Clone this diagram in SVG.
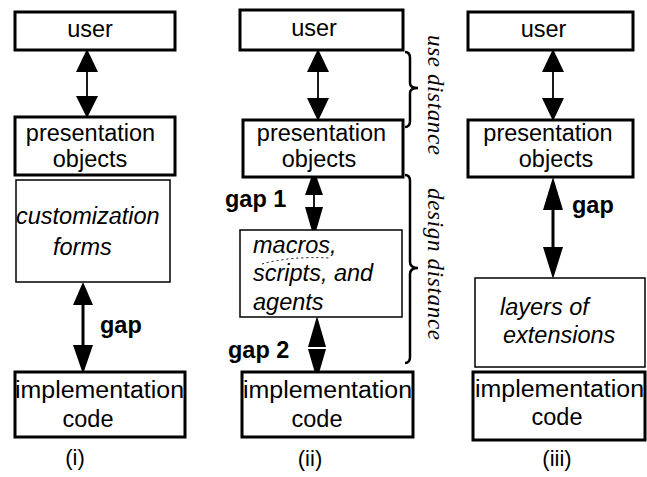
<svg xmlns="http://www.w3.org/2000/svg" width="647" height="477" viewBox="0 0 647 477">
<style>
.thick{fill:#fff;stroke:#000;stroke-width:3}
.thin{fill:#fff;stroke:#000;stroke-width:1.5}
.t{font-family:"Liberation Sans",Arial,sans-serif;font-size:23.5px;fill:#000}
.c{text-anchor:middle}
.i{font-style:italic}
.b{font-weight:bold}
.lbl{font-family:"Liberation Sans",Arial,sans-serif;font-size:22px;text-anchor:middle}
.v{font-family:"Liberation Serif","Times New Roman",serif;font-style:italic;font-size:23px;text-anchor:middle}
.ln{stroke:#000;stroke-width:1.8;fill:none}
.lnb{stroke:#000;stroke-width:3;fill:none}
.hd{fill:#000;stroke:none}
.br{stroke:#000;stroke-width:2.5;fill:none}
</style>
<rect width="647" height="477" fill="#fff"/>
<g id="connectors">
  <!-- (i) user <-> presentation -->
  <line class="ln" x1="87" y1="60" x2="87" y2="105"/>
  <polygon class="hd" points="87,49 76,72 98,72"/>
  <polygon class="hd" points="87,118 76,96 98,96"/>
  <!-- (i) gap -->
  <line class="lnb" x1="83" y1="295" x2="83" y2="360"/>
  <polygon class="hd" points="83,282 73,305 93,305"/>
  <polygon class="hd" points="83,374 73,345 93,345"/>
  <!-- (ii) user <-> presentation -->
  <line class="ln" x1="318" y1="60" x2="318" y2="108"/>
  <polygon class="hd" points="318,49 307,72 329,72"/>
  <polygon class="hd" points="318,121 307,98 329,98"/>
  <!-- (ii) gap 1 -->
  <line class="ln" x1="314" y1="190" x2="314" y2="212"/>
  <polygon class="hd" points="314,170 305,195 323,195"/>
  <polygon class="hd" points="314,238 305,207 323,207"/>
  <!-- (ii) gap 2 -->
  <polygon class="hd" points="317,316 308,347 326,347"/>
  <polygon class="hd" points="317,380 308,349 326,349"/>
  <!-- (iii) user <-> presentation -->
  <line class="ln" x1="553" y1="60" x2="553" y2="108"/>
  <polygon class="hd" points="553,49 542,72 564,72"/>
  <polygon class="hd" points="553,121 542,98 564,98"/>
  <!-- (iii) gap -->
  <line class="lnb" x1="553" y1="195" x2="553" y2="262"/>
  <polygon class="hd" points="553,177 543,210 563,210"/>
  <polygon class="hd" points="553,279 543,247 563,247"/>
</g>
<g id="panel-i">
  <g id="i-user"><rect class="thick" x="15" y="12" width="160" height="38"/><text class="t c" x="90" y="37">user</text></g>
  <g id="i-presentation"><rect class="thick" x="15" y="117" width="160" height="58"/><text class="t c" x="90.5" y="141">presentation</text><text class="t c" x="90" y="167">objects</text></g>
  <g id="i-customization"><rect class="thin" x="16" y="180" width="154" height="102"/><text class="t i" x="16" y="224">customization</text><text class="t i" x="53" y="255">forms</text></g>
  <g id="i-gap"><text class="t b" x="100" y="333">gap</text></g>
  <g id="i-implementation"><rect class="thick" x="15" y="372" width="170" height="65"/><text class="t" x="15" y="398" textLength="169" lengthAdjust="spacingAndGlyphs">implementation</text><text class="t c" x="88" y="427">code</text></g>
  <text class="lbl" x="75" y="465">(i)</text>
</g>
<g id="panel-ii">
  <g id="ii-user"><rect class="thick" x="240" y="10" width="163" height="40"/><text class="t c" x="314" y="36">user</text></g>
  <g id="ii-presentation"><rect class="thick" x="243" y="120" width="160" height="57"/><text class="t c" x="321.5" y="141">presentation</text><text class="t c" x="319" y="167">objects</text></g>
  <g id="ii-gap1"><text class="t b" x="225" y="207">gap 1</text></g>
  <g id="ii-macros"><rect class="thin" x="240" y="230" width="162" height="87"/><text class="t i" x="253" y="253">macros,</text><text class="t i" x="253" y="281">scripts, and</text><text class="t i" x="253" y="310">agents</text><path d="M262,264 Q290,256 330,258" stroke="#000" stroke-width="1" stroke-dasharray="2,3" fill="none"/></g>
  <g id="ii-gap2"><text class="t b" x="228" y="358">gap 2</text></g>
  <g id="ii-implementation"><rect class="thick" x="242" y="372" width="171" height="65"/><text class="t" x="243" y="398" textLength="169" lengthAdjust="spacingAndGlyphs">implementation</text><text class="t c" x="317" y="427">code</text></g>
  <text class="lbl" x="310" y="466">(ii)</text>
</g>
<g id="distances">
  <path class="br" d="M405,52 Q410,52 410,58 L410,83 Q410,88 418,88 Q410,88 410,93 L410,121 Q410,127 405,127"/>
  <path class="br" d="M405,175 Q410,175 410,181 L410,262 Q410,268 418,268 Q410,268 410,274 L410,357 Q410,363 405,363"/>
  <text class="v" transform="translate(428,95) rotate(90)" textLength="120" lengthAdjust="spacing">use distance</text>
  <text class="v" transform="translate(428,264) rotate(90)" textLength="152" lengthAdjust="spacing">design distance</text>
</g>
<g id="panel-iii">
  <g id="iii-user"><rect class="thick" x="468" y="12" width="165" height="38"/><text class="t c" x="543.5" y="37">user</text></g>
  <g id="iii-presentation"><rect class="thick" x="468" y="120" width="165" height="57"/><text class="t c" x="548" y="141">presentation</text><text class="t c" x="556" y="167">objects</text></g>
  <g id="iii-gap"><text class="t b" x="572" y="213">gap</text></g>
  <g id="iii-layers"><rect class="thin" x="475" y="278" width="170" height="89"/><text class="t i" x="500" y="315">layers of</text><text class="t i" x="503" y="343">extensions</text></g>
  <g id="iii-implementation"><rect class="thick" x="473" y="372" width="172" height="68"/><text class="t" x="475" y="397" textLength="169" lengthAdjust="spacingAndGlyphs">implementation</text><text class="t c" x="557" y="425">code</text></g>
  <text class="lbl" x="557" y="466">(iii)</text>
</g>
</svg>
